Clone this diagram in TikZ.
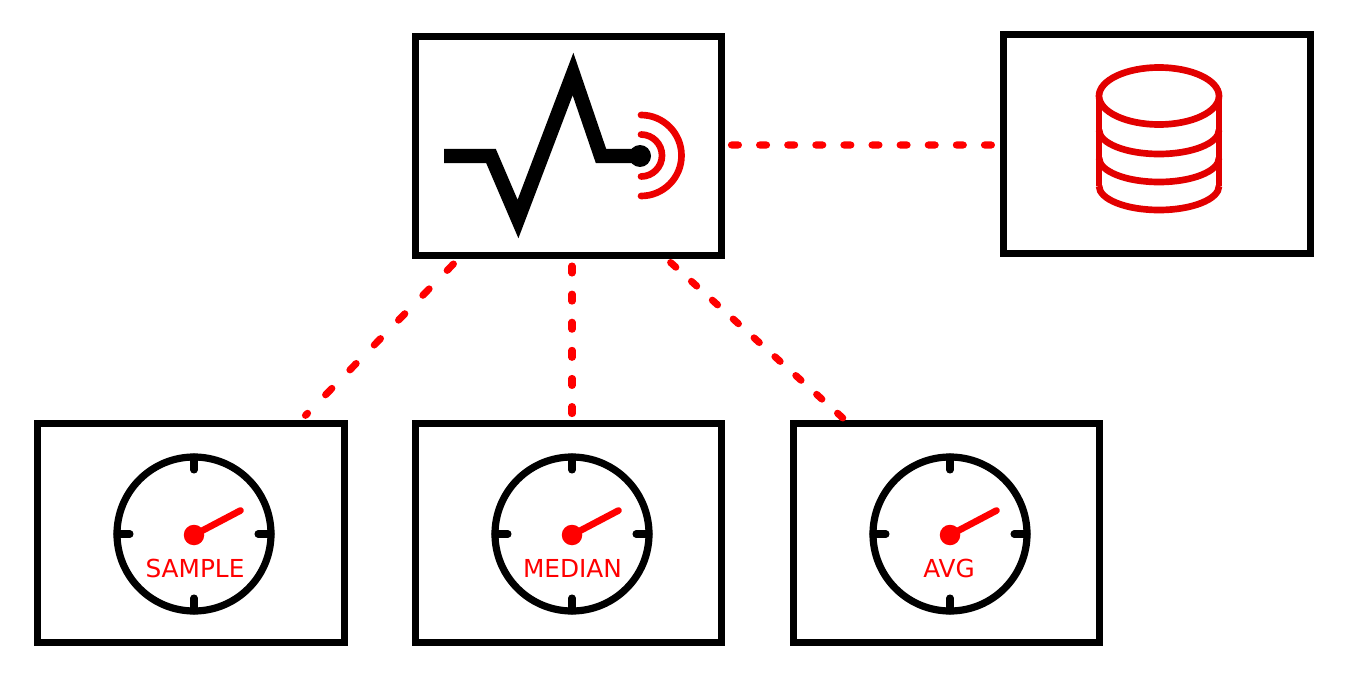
\documentclass[tikz,border=0pt]{standalone}
\usepackage{fontspec}
\setmainfont{DejaVu Sans}
\definecolor{dbred}{RGB}{226,0,0}
\definecolor{wavered}{RGB}{236,0,0}
\begin{document}
\begin{tikzpicture}[x=0.02cm,y=-0.02cm,
    boxnode/.style={draw=black,line width=3.97pt,minimum width=6.14cm,minimum height=4.38cm,inner sep=0pt},
    link/.style={red,line width=4pt,line cap=round,dash pattern=on 4pt off 12pt},
    hub/.style={circle,fill=red,inner sep=0pt,minimum size=0.41cm},
    gaugetext/.style={red,font=\fontsize{14.1pt}{16pt}\selectfont,inner sep=0pt,anchor=base}]
    \useasboundingbox (0,0) rectangle (1349,679);
    \node[boxnode] (monitor) at (568.5,146) {};
    \node[boxnode] (store) at (1157,144) {};
    \node[boxnode] (sample) at (191.25,532.75) {};
    \node[boxnode] (median) at (568.5,532.75) {};
    \node[boxnode] (avg) at (946.5,532.75) {};
    \foreach \gname/\gx/\tx/\glabel in {samplehub/194/195/SAMPLE,medianhub/572/572.5/MEDIAN,avghub/950/949/AVG} {
        \draw[line width=4.1pt] (\gx,534) circle (77);
        \draw[line width=4pt,line cap=round] (\gx,457) -- (\gx,470);
        \draw[line width=4pt,line cap=round] (\gx,611) -- (\gx,598);
        \draw[line width=4pt,line cap=round] (\gx-77,534) -- (\gx-64,534);
        \draw[line width=4pt,line cap=round] (\gx+77,534) -- (\gx+64,534);
        \node[hub] (\gname) at (\gx,535) {};
        \draw[red,line width=3.8pt,line cap=round] (\gname.center) -- ++(46.5,-24.5);
        \node[gaugetext] at (\tx,577.5) {\glabel};
    }
    \draw[line width=8.2pt] (444,156) -- (491,156) -- (518,219) -- (573,74) -- (601,156) -- (640,156);
    \node[circle,fill=black,inner sep=0pt,minimum size=0.44cm] (ping) at (640,156) {};
    \draw[wavered,line width=3.8pt,line cap=round] (641,134.5) arc (-90:90:21);
    \draw[wavered,line width=3.8pt,line cap=round] (641,115) arc (-90:90:40.5);
    \draw[dbred,line width=3.8pt] (1159,96) ellipse [x radius=60,y radius=28.5];
    \draw[dbred,line width=3.8pt] (1099,96) -- (1099,186) (1219,96) -- (1219,186);
    \foreach \ya in {130,158,186} {
        \draw[dbred,line width=3.8pt] (1099,\ya) arc (180:0:60 and 24);
    }
    \draw[link,shorten <=3.4pt] ([yshift=0.57pt]monitor.east) -- ([yshift=-0.57pt]store.west);
    \draw[link,shorten <=4pt,shorten >=3.5pt,dash pattern=on 5.1pt off 14.7pt] (monitor) -- (sample);
    \draw[link,shorten <=4pt] (monitor.south -| medianhub) -- (median.north -| medianhub);
    \draw[link,shorten <=3pt] (monitor.-49) -- (avg.132);
\end{tikzpicture}
\end{document}
